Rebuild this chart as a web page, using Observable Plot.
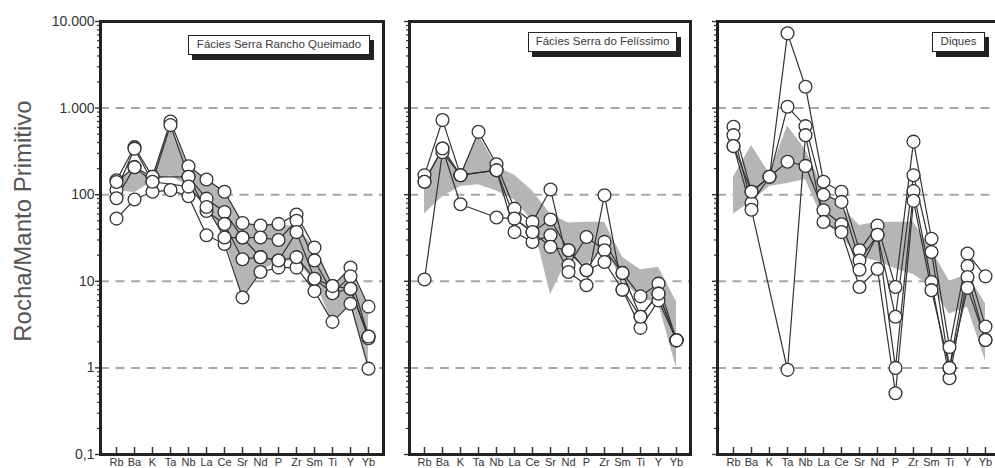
<!DOCTYPE html>
<html>
<head>
<meta charset="utf-8">
<script src="https://cdn.jsdelivr.net/npm/d3@7"></script>
<script src="https://cdn.jsdelivr.net/npm/@observablehq/plot@0.6"></script>
<style>
  html, body { margin: 0; padding: 0; background: #fff; overflow: hidden; }
  #wrap { position: relative; width: 995px; height: 468px; overflow: hidden; font-family: "Liberation Sans", Arial, sans-serif; }
  .panel { position: absolute; top: 0; }
  .legend { position: absolute; box-sizing: border-box; height: 20px; border: 1.5px solid #222; background: #fff;
            box-shadow: 4px 5px 0 #222; font-size: 11.5px; color: #3a3a3a; text-align: center; line-height: 17px; white-space: nowrap; }
  #ytitle { position: absolute; left: 23px; top: 221px; transform: translate(-50%, -50%) rotate(-90deg);
            font-size: 24px; line-height: 1; color: #555; white-space: nowrap; }
</style>
</head>
<body>
<div id="wrap"></div>
<script>
// ---------- categories & tick labels ----------
const elements = ["Rb","Ba","K","Ta","Nb","La","Ce","Sr","Nd","P","Zr","Sm","Ti","Y","Yb"];
const yTicks = [0.1, 1, 10, 100, 1000, 10000];
const yTickLabels = ["0,1", "1", "10", "100", "1.000", "10.000"];
const gridValues = [1, 10, 100, 1000];
const yTitle = "Rocha/Manto Primitivo";
const titles = ["Fácies Serra Rancho Queimado", "Fácies Serra do Felíssimo", "Diques"];

// ---------- Fácies Serra Rancho Queimado ----------
const rancho1 = [147, 354, 161, 700, 213, 150, 108, 47, 44, 46, 59, 24.5, 8.8, 14.4, 5.1];
const rancho2 = [113, 340, 141, 636, 161, 90, 63, 32, 32, 30, 50, 17.4, 7.3, 11.4, 2.3];
const rancho3 = [91, 208, 161, null, 161, 65, 46, 18, 19, 17.4, 37, 10.7, 7.3, 8.2, 2.2];
const rancho4 = [53, 88, 108, 113, 96, 34, 27, 6.5, 12.8, 14.4, 14.4, 7.7, 3.4, 5.5, 0.98];
const rancho5 = [140, 208, 141, null, 124, 72, 32, 32, 19, 17.4, 19, 10.7, 8.8, 8.2, 2.3];
const ranchoBandLow  = [113, 105, 141, 165, 124, 72, 32, 6.5, 12.8, 17, 17, 10, 3.4, 5.5, 1];
const ranchoBandHigh = [140, 200, 161, 636, 213, 150, 108, 47, 43, 46, 42, 25, 8.8, 13.6, 5];

// ---------- Fácies Serra do Felíssimo ----------
const feli1 = [168, 727, 168, null, 192, 53, 37, 51.7, 22.8, 13.4, 28.5, 12.5, 6.7, 9.4, 2.08];
const feli2 = [141, 342, 168, 532, 225, 69, 48.5, 115, 15.3, 32.5, 22.8, 12.5, 3.9, 7.2, 2.08];
const feli3 = [10.5, 310, 168, null, 192, 37, 28.5, 34, 12.8, 9, 98.6, 8, 2.9, 6, 2.08];
const feli4 = [141, 342, 77.6, null, 54.5, 53, 37, 25, 22.8, 13.4, 16.7, 8, 3.9, 7.2, 2.08];
const feliBandLow  = [60, 95, 124, 130, 110, 87, 50, 7, 19, 15, 25, 10, 6.5, 5.5, 1];
const feliBandHigh = [141, 330, 168, 500, 210, 168, 110, 60, 47, 48, 48, 19, 13.6, 14.5, 5.8];

// ---------- Diques ----------
const diq1 = [608, 108, 161, 7300, 1763, 141, 108, 22.8, 44, 8.6, 410, 31, 1.74, 20.9, 11.4];
const diq2 = [487, 80, 161, 1035, 619, 100, 82.6, 17.4, 34.4, 3.9, 168, 21.8, 1.0, 15, 3.0];
const diq3 = [364, 108, 161, 240, 215, 66, 45.6, 13.6, 34.4, 1.0, 110, 9.8, 0.76, 11.2, 2.1];
const diq4 = [364, 67, null, 0.95, 487, 48.5, 37, 8.6, 13.9, 0.51, 85, 7.9, 1.0, 8.4, 2.1];
const diqBandLow  = [60, 83, 124, 135, 150, 50, 32, 19, 17, 14, 12, 8.6, 4.2, 5, 1.2];
const diqBandHigh = [160, 370, 175, 620, 330, 118, 72, 44, 48, 48, 48, 23, 10, 12, 5.5];

// ---------- helpers ----------
const labelMap = new Map(yTicks.map((v, i) => [v, yTickLabels[i]]));
const minorTicks = [0.1, 1, 10, 100, 1000].flatMap(b => [2,3,4,5,6,7,8,9].map(m => b * m));

function tidy(samples) {
  return samples.flatMap((vals, s) =>
    vals.map((v, i) => ({el: elements[i], v, s})).filter(d => d.v != null));
}
function band(lo, hi) {
  return elements.map((el, i) => ({el, lo: lo[i], hi: hi[i]}));
}

const wrap = document.getElementById("wrap");

function panel({samples, lo, hi, left, width, marginLeft, marginRight, showLabels, title, legend}) {
  const pts = tidy(samples);
  const svg = Plot.plot({
    width, height: 468,
    marginLeft, marginRight, marginTop: 21, marginBottom: 14,
    style: {fontFamily: "Liberation Sans, Arial, sans-serif", fontSize: "11px", color: "#333", background: "transparent", overflow: "visible"},
    x: {type: "point", domain: elements, padding: 0.56, label: null},
    y: {type: "log", domain: [0.1, 10000], label: null},
    marks: [
      Plot.ruleY(gridValues, {stroke: "#a8a8a8", strokeWidth: 2, strokeDasharray: "9,6.5"}),
      Plot.areaY(band(lo, hi), {x: "el", y1: "lo", y2: "hi", fill: "#b5b5b5"}),
      Plot.line(pts, {x: "el", y: "v", z: "s", stroke: "#333", strokeWidth: 1.2}),
      Plot.dot(pts, {x: "el", y: "v", r: 6.4, fill: "white", stroke: "#333", strokeWidth: 1.3}),
      Plot.axisY(minorTicks, {tickSize: 3, tickFormat: () => "", strokeWidth: 1.2}),
      Plot.axisY(yTicks, {tickSize: 5, tickPadding: 1, strokeWidth: 1.4, fontSize: 14,
        tickFormat: showLabels ? (d => labelMap.get(d)) : (() => "")}),
      Plot.axisX({tickSize: 7, dy: -7, tickFormat: () => "", strokeWidth: 1.5}),
      Plot.axisX({tickSize: 0, tickPadding: 4, fontSize: 11}),
      Plot.frame({stroke: "#222", strokeWidth: 3})
    ]
  });
  svg.classList.add("panel");
  svg.style.left = left + "px";
  wrap.appendChild(svg);

  const lg = document.createElement("div");
  lg.className = "legend";
  lg.textContent = title;
  lg.style.left = legend.x + "px";
  lg.style.top = legend.y + "px";
  lg.style.width = legend.w + "px";
  wrap.appendChild(lg);
}

panel({samples: [rancho1, rancho2, rancho3, rancho4, rancho5], lo: ranchoBandLow, hi: ranchoBandHigh,
       left: 0, width: 390, marginLeft: 100, marginRight: 7, showLabels: true,
       title: titles[0], legend: {x: 188, y: 35, w: 182}});
panel({samples: [feli1, feli2, feli3, feli4], lo: feliBandLow, hi: feliBandHigh,
       left: 395, width: 300, marginLeft: 14, marginRight: 5, showLabels: false,
       title: titles[1], legend: {x: 528, y: 32, w: 149}});
panel({samples: [diq1, diq2, diq3, diq4], lo: diqBandLow, hi: diqBandHigh,
       left: 700, width: 305, marginLeft: 17, marginRight: 5, showLabels: false,
       title: titles[2], legend: {x: 932, y: 32, w: 53}});

const yt = document.createElement("div");
yt.id = "ytitle";
yt.textContent = yTitle;
wrap.appendChild(yt);
</script>
</body>
</html>
